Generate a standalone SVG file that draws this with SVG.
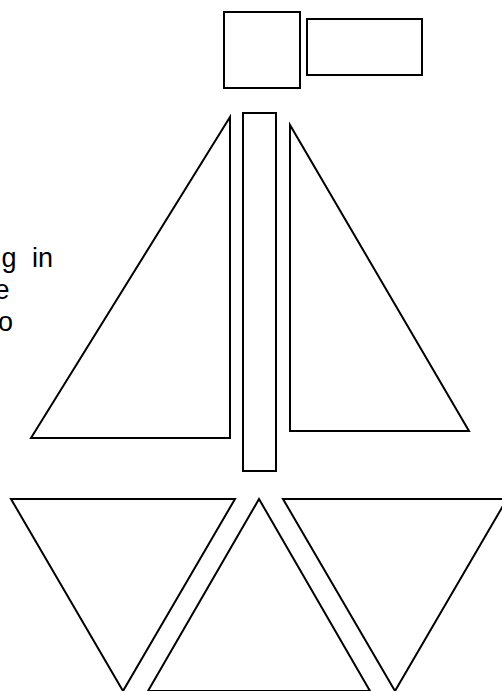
<svg xmlns="http://www.w3.org/2000/svg" width="502" height="691" viewBox="0 0 502 691">
<style>
.s{fill:#fff;stroke:#000;stroke-width:2}
.t{font-family:"Liberation Sans",Arial,sans-serif;font-size:27px;fill:#000;text-anchor:end}
</style>
<rect width="502" height="691" fill="#fff"/>
<g id="label">
<text class="t" x="53" y="267" word-spacing="8">g in</text>
<text class="t" x="9.5" y="299">e</text>
<text class="t" x="13" y="331">o</text>
</g>
<g id="flag-square"><rect class="s" x="224" y="12" width="76" height="76"/></g>
<g id="flag-rect"><rect class="s" x="307" y="19" width="115" height="56"/></g>
<g id="mast"><rect class="s" x="243" y="113" width="33" height="358"/></g>
<g id="sail-left"><polygon class="s" points="230,117 31,438 230,438"/></g>
<g id="sail-right"><polygon class="s" points="290,125 290,431 469,431"/></g>
<g id="hull-left"><polygon class="s" points="11,499 235,499 123,691"/></g>
<g id="hull-middle"><polygon class="s" points="259,499 148,691 370,691"/></g>
<g id="hull-right"><polygon class="s" points="283,499 507,499 395,691"/></g>
<g id="connectors"></g>
</svg>
